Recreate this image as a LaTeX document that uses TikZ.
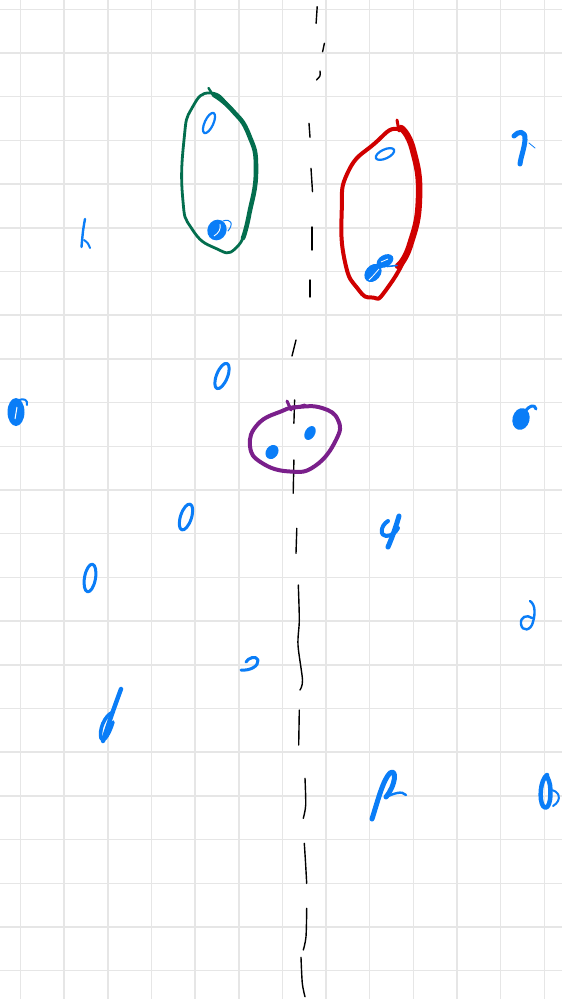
\documentclass[tikz,border=0pt]{standalone}
\usepackage{tikz}
\usetikzlibrary{calc}
\definecolor{GridGray}{HTML}{E6E6E6}
\definecolor{InkBlue}{HTML}{0A7DF7}
\definecolor{InkGreen}{HTML}{036E4E}
\definecolor{InkRed}{HTML}{D00000}
\definecolor{InkPurple}{HTML}{7A1F8B}

\begin{document}
\begin{tikzpicture}[
    x=1pt, y=-1pt,
    gridline/.style={draw=GridGray,line width=1.5pt},
    pen/.style={draw=InkBlue,line width=2.6pt,line cap=round,line join=round},
    blob/.style={fill=InkBlue},
    axisdash/.style={draw=black,line width=1.4pt,line cap=round},
    greenloop/.style={draw=InkGreen,line width=2.8pt,line join=round,line cap=round},
    redloop/.style={draw=InkRed,line width=4pt,line join=round,line cap=round},
    purpleloop/.style={draw=InkPurple,line width=4pt,line join=round,line cap=round}
  ]
  \fill[white] (0,0) rectangle (562,999);
  \useasboundingbox (0,0) rectangle (562,999);
  \foreach \gx in {0,...,12} \draw[gridline] ({20.5+43.65*\gx},0) -- ++(0,999);
  \foreach \gy in {0,...,22} \draw[gridline] (0,{9.3+43.7*\gy}) -- ++(562,0);

  % dashed axis
  \foreach \ya/\xa/\yb/\xb in {6.7/317.2/23.3/316.1, 43.3/324.4/51.7/322.6, 123.3/309/137.3/310,
      168.3/311/191.7/312.5, 227/312/250/312, 280/310/297/310, 340/296/356/292,
      400/294.6/423.3/293.9, 460/293.9/493.3/293.2, 528.3/296.8/553.3/296,
      710/299.3/745/298.7}
    \draw[axisdash] (\xa,\ya) -- (\xb,\yb);
  \draw[axisdash] (320,71) .. controls (320.5,76) .. (316.5,80);
  \draw[axisdash] plot[smooth] coordinates {(298.3,585) (299.3,620) (298,645) (302.5,680) (300,690)};
  \draw[axisdash] plot[smooth] coordinates {(305,778.3) (305.7,805) (303.3,818.3)};
  \draw[axisdash] plot[smooth] coordinates {(304.3,843.3) (305.5,862) (306.7,883.3)};
  \draw[axisdash] plot[smooth] coordinates {(306.7,908.3) (306,936.7) (303.3,950)};
  \draw[axisdash] plot[smooth] coordinates {(301,957.3) (302.3,983.3) (305,996.7)};

  % green group
  \draw[greenloop] plot[smooth cycle,tension=0.9] coordinates {(210.7,93) (192,108)
      (184,140) (182.7,198) (192,229) (215,248) (236,248) (249,215) (256,170)
      (249,135) (232,110)};
  \draw[greenloop,line width=4.6pt] plot[smooth,tension=0.9] coordinates {(214,95) (232,110)
      (249,135) (256,170) (249,215) (243,238)};
  \draw[greenloop,line width=2.4pt] (208.5,88) -- (213,95);
  \draw[pen,line width=2.2pt,rotate around={-25:(209,123)}] (209,123) ellipse [x radius=4.3, y radius=11];
  \fill[blob,rotate around={-25:(217,230)}] (217,230) ellipse [x radius=9.5, y radius=10.5];
  \draw[white,line width=0.9pt] (214,236) .. controls (219,233) and (221,229) .. (220,224);
  \draw[pen,line width=1pt] (223,221) .. controls (231,218) and (234,224) .. (228,231);

  % red group
  \draw[redloop] plot[smooth cycle,tension=0.9] coordinates {(398,129) (374,144) (348,172)
      (341.7,212) (345,262) (358,289) (372,297.5) (386,290) (410,245) (419,198)
      (413,150)};
  \draw[redloop,line width=6.5pt] plot[smooth,tension=0.9] coordinates {(401,128) (413,150)
      (419,198) (410,245) (398,266)};
  \draw[redloop,line width=3pt] (397,120) -- (399,131);
  \draw[pen,line width=2.2pt,rotate around={25:(385,154)}] (385,154) ellipse [x radius=10, y radius=4.5];
  \fill[blob,rotate around={30:(385,261)}] (385,261) ellipse [x radius=9, y radius=6];
  \fill[blob,rotate around={-40:(373,273)}] (373,273) ellipse [x radius=7.5, y radius=10];
  \draw[white,line width=0.8pt] (369,280) .. controls (373,276) .. (379,269);
  \draw[white,line width=0.8pt] (381,262) -- (388,259);
  \draw[pen,line width=1.6pt] (387,266.5) -- (397,265.5);

  % purple group
  \draw[purpleloop] plot[smooth cycle,tension=0.8] coordinates {(298,407) (322,408) (338,420)
      (336,440) (315,466) (290,471.5) (262,463) (250,446) (258,424) (282,411)};
  \draw[purpleloop,line width=3pt] (287,401) -- (291,410);
  \draw[purpleloop,line width=3pt] (291,409) -- (305,405);
  \fill[blob,rotate around={-30:(310,433)}] (310,433) ellipse [x radius=5, y radius=7.5];
  \fill[blob,rotate around={-35:(272,452)}] (272,452) ellipse [x radius=6, y radius=7.5];

  % loose marks
  \draw[pen,line width=5pt] (514,136) .. controls (518,131) and (526,130) .. (525,140)
      .. controls (524,150) and (521,156) .. (520,164);
  \draw[pen,line width=0.8pt] (529,143) -- (535,148);
  \draw[pen,line width=2.4pt] (85,219) .. controls (83,230) .. (81.5,247);
  \draw[pen,line width=2pt] (84,240) .. controls (88,243) .. (90,248);
  \draw[pen,line width=3pt,rotate around={-22:(222,376)}] (222,376) ellipse [x radius=5.5, y radius=13.5];
  \fill[blob] (16,412) ellipse [x radius=8.5, y radius=14];
  \draw[white,line width=1pt] (17,407) -- (15,419);
  \draw[pen,line width=2pt] (19,400) .. controls (24,398) and (28,400) .. (27,405);
  \fill[blob,rotate around={-15:(521,419)}] (521,419) ellipse [x radius=8.5, y radius=11];
  \draw[pen,line width=3pt] (525,412) .. controls (529,405) and (535,404) .. (536,409);
  \draw[pen,line width=3pt,rotate around={-18:(186,517)}] (186,517) ellipse [x radius=5.5, y radius=13.5];
  \draw[pen,line width=5pt] (399,516) .. controls (395,530) and (391,540) .. (388,547);
  \draw[pen,line width=4pt] (388,521) .. controls (380,526) and (380,536) .. (386,536)
      .. controls (392,536) and (396,532) .. (398,528);
  \draw[pen,line width=3pt,rotate around={-10:(90,578)}] (90,578) ellipse [x radius=5.5, y radius=14];
  \draw[pen,line width=2.4pt] (530,601) .. controls (536,605) and (535,615) .. (533,622)
      .. controls (531,631) and (522,632) .. (521,624) .. controls (520,617) and (527,614) .. (532,618);
  \draw[pen,line width=3pt] (241,670) .. controls (250,671) and (259,666) .. (258,660)
      .. controls (256,655) and (248,658) .. (246,662);
  \draw[pen,line width=4.4pt] (121,689) .. controls (114,708) and (108,725) .. (103,741);
  \draw[pen,line width=3.6pt] (113,712) .. controls (104,716) and (99,730) .. (101,738)
      .. controls (104,744) and (110,732) .. (113,722);
  \draw[pen,line width=5pt] (372,819) .. controls (378,800) and (383,780) .. (390,773)
      .. controls (397,768) and (396,785) .. (386,797);
  \draw[pen,line width=2.4pt] (386,797) .. controls (393,794) and (402,790) .. (406,795);
  \draw[pen,line width=4.5pt] (547,775) .. controls (540,780) and (539,800) .. (543,806)
      .. controls (548,812) and (552,800) .. (550,785) .. controls (549,779) and (546,776) .. (547,775);
  \draw[pen,line width=2pt] (550,790) .. controls (559,790) and (563,800) .. (553,806);
\end{tikzpicture}
\end{document}
